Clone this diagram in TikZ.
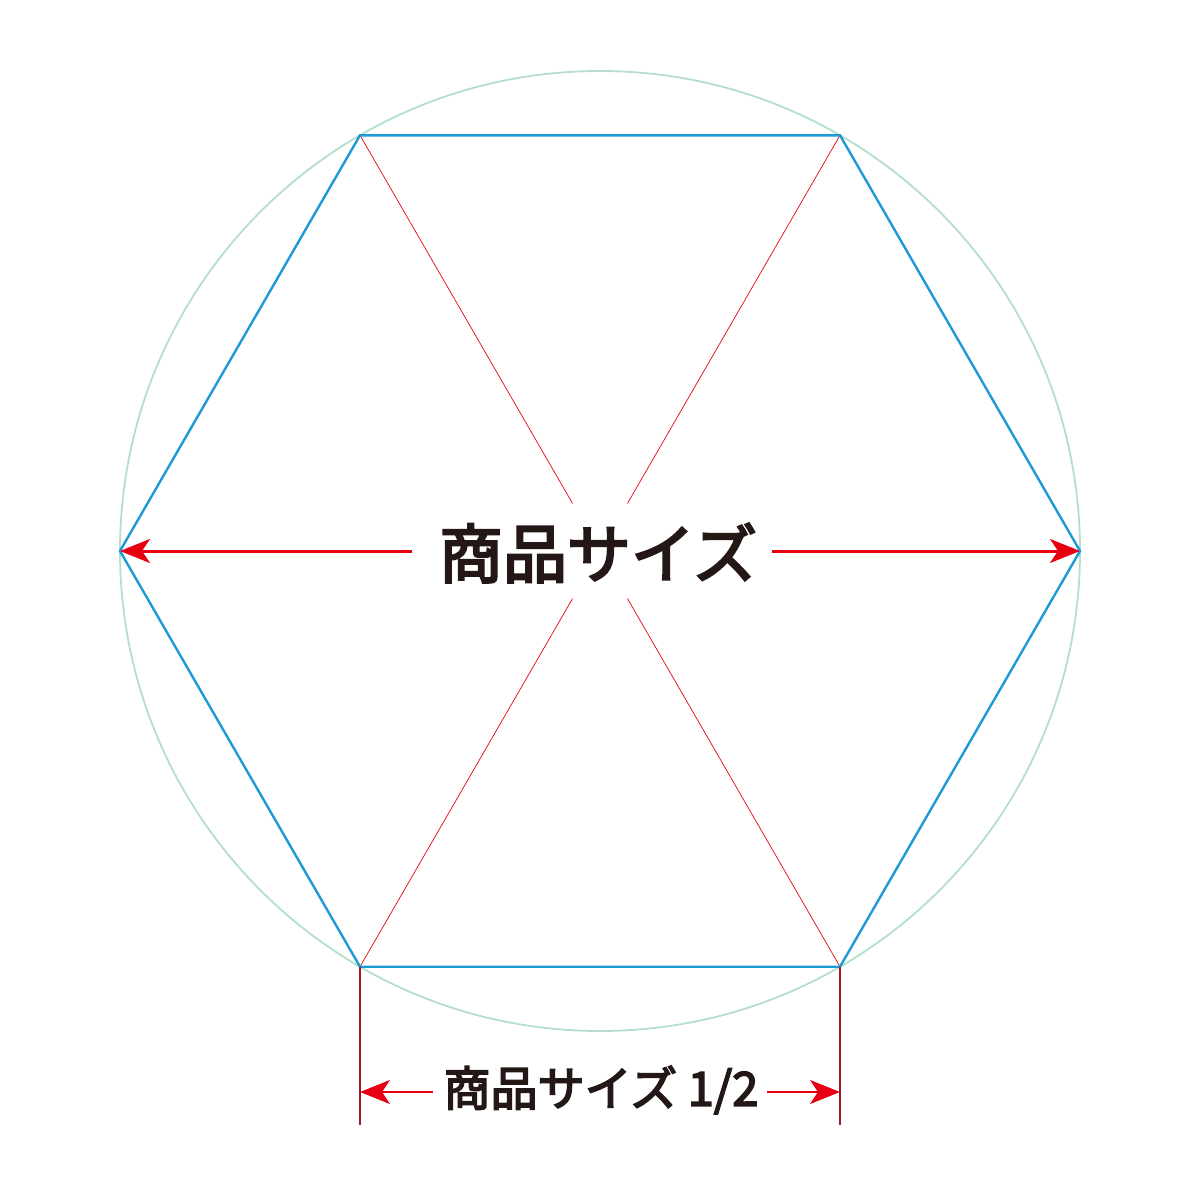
\documentclass[tikz,border=0pt]{standalone}
\usepackage{fontspec}
\newfontfamily\cjk[FakeBold=3.5]{Noto Sans CJK JP}
\usetikzlibrary{arrows.meta,calc}
\definecolor{hexblue}{HTML}{1E9AD6}
\definecolor{circgreen}{HTML}{B5DFCC}
\definecolor{dimred}{HTML}{E60012}
\definecolor{dimdark}{HTML}{A3142B}
\definecolor{textblack}{HTML}{231815}
\tikzset{
  hexline/.style={draw=hexblue, line width=1.2pt},
  circline/.style={draw=circgreen, line width=0.9pt},
  diagline/.style={draw=dimred, line width=0.35pt},
  bigarrow/.style={draw=dimred, line width=1.5pt, -{Stealth[length=15pt,width=12pt,inset=4pt]}},
  smallarrow/.style={draw=dimred, line width=1.1pt, -{Stealth[length=15pt,width=12pt,inset=4pt]}},
  extline/.style={draw=dimdark, line width=0.9pt},
  biglabel/.style={font=\cjk\fontsize{32pt}{36pt}\selectfont, text=textblack, inner sep=0pt},
  smalllabel/.style={font=\cjk\fontsize{23.5pt}{26pt}\selectfont, text=textblack, inner sep=0pt},
}
\begin{document}
\begin{tikzpicture}[x=0.5pt,y=-0.5pt]
\useasboundingbox[fill=white] (0,0) rectangle (1200,1200);
\coordinate (C) at (600,551);
\coordinate (L) at (120,551);
\coordinate (R) at (1080,551);
\coordinate (TL) at (360,135.3);
\coordinate (TR) at (840,135.3);
\coordinate (BL) at (360,966.7);
\coordinate (BR) at (840,966.7);
% circle
\draw[circline] (C) circle (480);
% diagonals with gap
\foreach \v in {TL,TR,BL,BR}{
  \draw[diagline] (\v) -- ($(C)!27.5pt!(\v)$);
}
% hexagon
\draw[hexline, line join=miter] (L) -- (TL) -- (TR) -- (R) -- (BR) -- (BL) -- cycle;
% main label and arrows
\node[biglabel] (main) at (598,553) {商品サイズ};
\coordinate (ml) at (412,551);
\coordinate (mr) at (772,551);
\draw[bigarrow] (ml) -- (L);
\draw[bigarrow] (mr) -- (R);
% extension lines
\coordinate (BLe) at (360,1125);
\coordinate (BRe) at (840,1125);
\draw[extline] (BL) -- (BLe);
\draw[extline] (BR) -- (BRe);
% half label
\node[smalllabel] (half) at (601,1090) {商品サイズ 1/2};
\coordinate (hl) at (433,1092);
\coordinate (hr) at (767,1092);
\coordinate (hL) at (360,1092);
\coordinate (hR) at (840,1092);
\draw[smallarrow] (hl) -- (hL);
\draw[smallarrow] (hr) -- (hR);
\end{tikzpicture}
\end{document}
